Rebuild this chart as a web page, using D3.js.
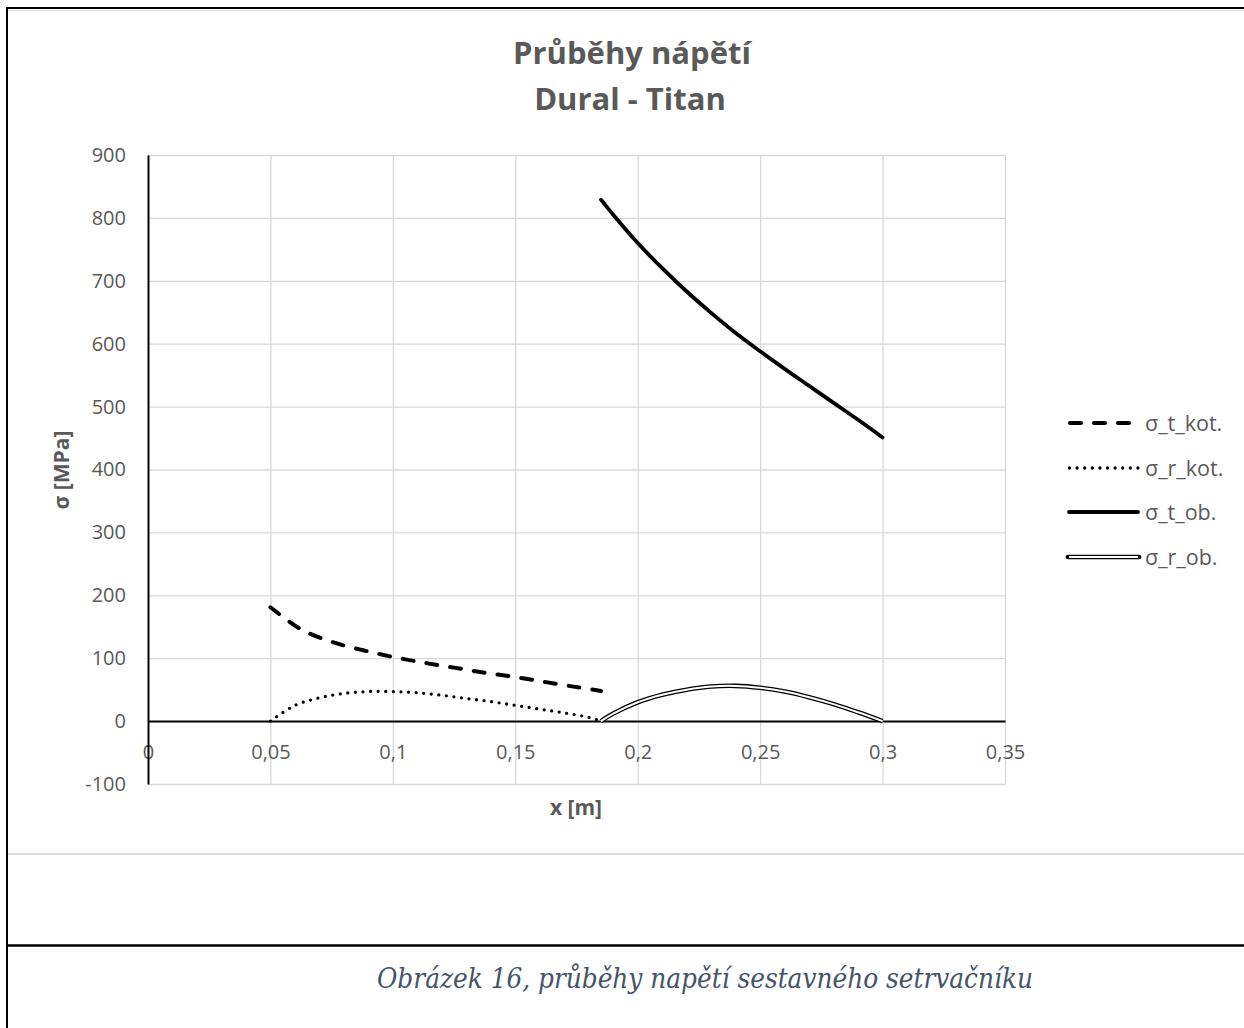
<!DOCTYPE html>
<html>
<head>
<meta charset="utf-8">
<script src="https://cdn.jsdelivr.net/npm/d3@7"></script>
<style>
  body { margin: 0; background: #fff; }
  text { font-family: "Open Sans", sans-serif; }
  text.caption { font-family: "DejaVu Serif Condensed", "DejaVu Serif", serif; font-style: italic; }
</style>
</head>
<body>
<svg width="1244" height="1028"></svg>
<script>
// hodnoty
var xKot = [0.05, 0.0625, 0.075, 0.0875, 0.1, 0.1125, 0.125, 0.1375, 0.15, 0.1625, 0.175, 0.185];
var sigmaTKot = [181, 146, 126, 113, 102, 93, 85, 77, 70, 62, 54, 48];

var xKotR = [0.05, 0.06, 0.07, 0.08, 0.09, 0.1, 0.11, 0.12, 0.13, 0.14, 0.15, 0.16, 0.17, 0.18, 0.185];
var sigmaRKot = [0, 25, 37, 44, 47, 47, 45, 41, 36, 31, 25, 19, 13, 6, 0];

var xOb = [0.185, 0.19, 0.2, 0.21, 0.22, 0.23, 0.24, 0.25, 0.26, 0.27, 0.28, 0.29, 0.3];
var sigmaTOb = [829, 805, 760, 720, 683, 649, 617, 588, 560, 533, 506, 479, 451];
var sigmaROb = [0, 12, 30, 42, 50, 55, 56, 53, 47, 38, 27, 14, 0];

var seriesNames = ["σ_t_kot.", "σ_r_kot.", "σ_t_ob.", "σ_r_ob."];
var xTicks = [0, 0.05, 0.1, 0.15, 0.2, 0.25, 0.3, 0.35];
var yTicks = [-100, 0, 100, 200, 300, 400, 500, 600, 700, 800, 900];

var svg = d3.select("svg");
var textColor = "#595959";

var x = d3.scaleLinear().domain([0, 0.35]).range([148, 1005]);
var y = d3.scaleLinear().domain([-100, 900]).range([784, 155]);

// rámečky stránky
svg.append("line").attr("x1", 7).attr("x2", 1244).attr("y1", 8).attr("y2", 8)
  .attr("stroke", "#000").attr("stroke-width", 2);
svg.append("line").attr("x1", 8).attr("x2", 1244).attr("y1", 10.5).attr("y2", 10.5)
  .attr("stroke", "#e3e3e3").attr("stroke-width", 1);
svg.append("line").attr("x1", 7).attr("x2", 7).attr("y1", 7).attr("y2", 1028)
  .attr("stroke", "#000").attr("stroke-width", 2);
svg.append("line").attr("x1", 8).attr("x2", 1244).attr("y1", 854).attr("y2", 854)
  .attr("stroke", "#dcdcdc").attr("stroke-width", 2);
svg.append("line").attr("x1", 7).attr("x2", 1244).attr("y1", 945.5).attr("y2", 945.5)
  .attr("stroke", "#000").attr("stroke-width", 2.5);

// mřížka
svg.append("g")
  .attr("transform", "translate(0," + y(-100) + ")")
  .call(d3.axisBottom(x).tickValues(xTicks.slice(1)).tickSize(-(y(-100) - y(900))).tickFormat(""))
  .call(function(g) { g.select(".domain").remove(); })
  .selectAll("line").attr("stroke", "#d9d9d9").attr("stroke-width", 1.3);

svg.append("g")
  .attr("transform", "translate(" + x(0) + ",0)")
  .call(d3.axisLeft(y).tickValues(yTicks).tickSize(-(x(0.35) - x(0))).tickFormat(""))
  .call(function(g) { g.select(".domain").remove(); })
  .selectAll("line").attr("stroke", "#d9d9d9").attr("stroke-width", 1.3);

// osy
var fmt = function(d) { return String(d).replace(".", ","); };

var xAxis = svg.append("g")
  .attr("transform", "translate(0," + y(0) + ")")
  .call(d3.axisBottom(x).tickValues(xTicks).tickSize(0).tickPadding(24).tickFormat(fmt));
xAxis.select(".domain").attr("stroke", "#000").attr("stroke-width", 2);
xAxis.selectAll("text").attr("fill", textColor).attr("font-size", 20);

var yAxis = svg.append("g")
  .attr("transform", "translate(" + x(0) + ",0)")
  .call(d3.axisLeft(y).tickValues(yTicks).tickSize(0).tickPadding(22).tickFormat(fmt));
yAxis.select(".domain").attr("stroke", "#000").attr("stroke-width", 2);
yAxis.selectAll("text").attr("fill", textColor).attr("font-size", 20);

// křivky
var line = d3.line()
  .x(function(d) { return x(d[0]); })
  .y(function(d) { return y(d[1]); })
  .curve(d3.curveCatmullRom.alpha(0.5));

var zip = function(xs, ys) { return xs.map(function(v, i) { return [v, ys[i]]; }); };

var plot = svg.append("g").attr("fill", "none");

plot.append("path").datum(zip(xKot, sigmaTKot))
  .attr("d", line).attr("stroke", "#000").attr("stroke-width", 4)
  .attr("stroke-dasharray", "11,13").attr("stroke-linecap", "round");

plot.append("path").datum(zip(xKotR, sigmaRKot))
  .attr("d", line).attr("stroke", "#000").attr("stroke-width", 3.3)
  .attr("stroke-dasharray", "0,7.6").attr("stroke-linecap", "round");

plot.append("path").datum(zip(xOb, sigmaTOb))
  .attr("d", line).attr("stroke", "#000").attr("stroke-width", 3.8)
  .attr("stroke-linecap", "round");

plot.append("path").datum(zip(xOb, sigmaROb))
  .attr("d", line).attr("stroke", "#000").attr("stroke-width", 4.6);
plot.append("path").datum(zip(xOb, sigmaROb))
  .attr("d", line).attr("stroke", "#fff").attr("stroke-width", 2);

// legenda
var legend = svg.append("g").selectAll("g")
  .data(seriesNames)
  .enter().append("g")
    .attr("transform", function(d, i) { return "translate(0," + [423, 468, 512, 557][i] + ")"; });

legend.each(function(d, i) {
  var g = d3.select(this);
  if (i == 0) {
    g.append("line").attr("x1", 1070).attr("x2", 1138)
      .attr("stroke", "#000").attr("stroke-width", 4)
      .attr("stroke-dasharray", "11,13").attr("stroke-linecap", "round");
  } else if (i == 1) {
    g.append("line").attr("x1", 1069.5).attr("x2", 1139)
      .attr("stroke", "#000").attr("stroke-width", 3.3)
      .attr("stroke-dasharray", "0,7.6").attr("stroke-linecap", "round");
  } else if (i == 2) {
    g.append("line").attr("x1", 1069).attr("x2", 1138)
      .attr("stroke", "#000").attr("stroke-width", 3.8).attr("stroke-linecap", "round");
  } else {
    g.append("line").attr("x1", 1068).attr("x2", 1139)
      .attr("stroke", "#000").attr("stroke-width", 4.6).attr("stroke-linecap", "round");
    g.append("line").attr("x1", 1069).attr("x2", 1138)
      .attr("stroke", "#fff").attr("stroke-width", 2);
  }
  g.append("text")
    .attr("x", 1145).attr("dy", "0.35em")
    .attr("fill", textColor).attr("font-size", 21.5)
    .text(d);
});

// titulky
svg.append("text")
  .attr("x", 632).attr("y", 64)
  .attr("text-anchor", "middle").attr("font-size", 31).attr("font-weight", "bold")
  .attr("fill", textColor)
  .text("Průběhy nápětí");
svg.append("text")
  .attr("x", 630).attr("y", 110)
  .attr("text-anchor", "middle").attr("font-size", 31).attr("font-weight", "bold")
  .attr("fill", textColor)
  .text("Dural - Titan");

svg.append("text")
  .attr("transform", "translate(69,470) rotate(-90)")
  .attr("text-anchor", "middle").attr("font-size", 21).attr("font-weight", "bold")
  .attr("fill", textColor)
  .text("σ [MPa]");

svg.append("text")
  .attr("x", 576).attr("y", 815)
  .attr("text-anchor", "middle").attr("font-size", 21).attr("font-weight", "bold")
  .attr("fill", textColor)
  .text("x [m]");

// popisek obrázku
svg.append("text")
  .attr("class", "caption")
  .attr("x", 377).attr("y", 988)
  .attr("font-size", 28).attr("fill", "#44546A")
  .attr("textLength", 656).attr("lengthAdjust", "spacingAndGlyphs")
  .text("Obrázek 16, průběhy napětí sestavného setrvačníku");
</script>
</body>
</html>
